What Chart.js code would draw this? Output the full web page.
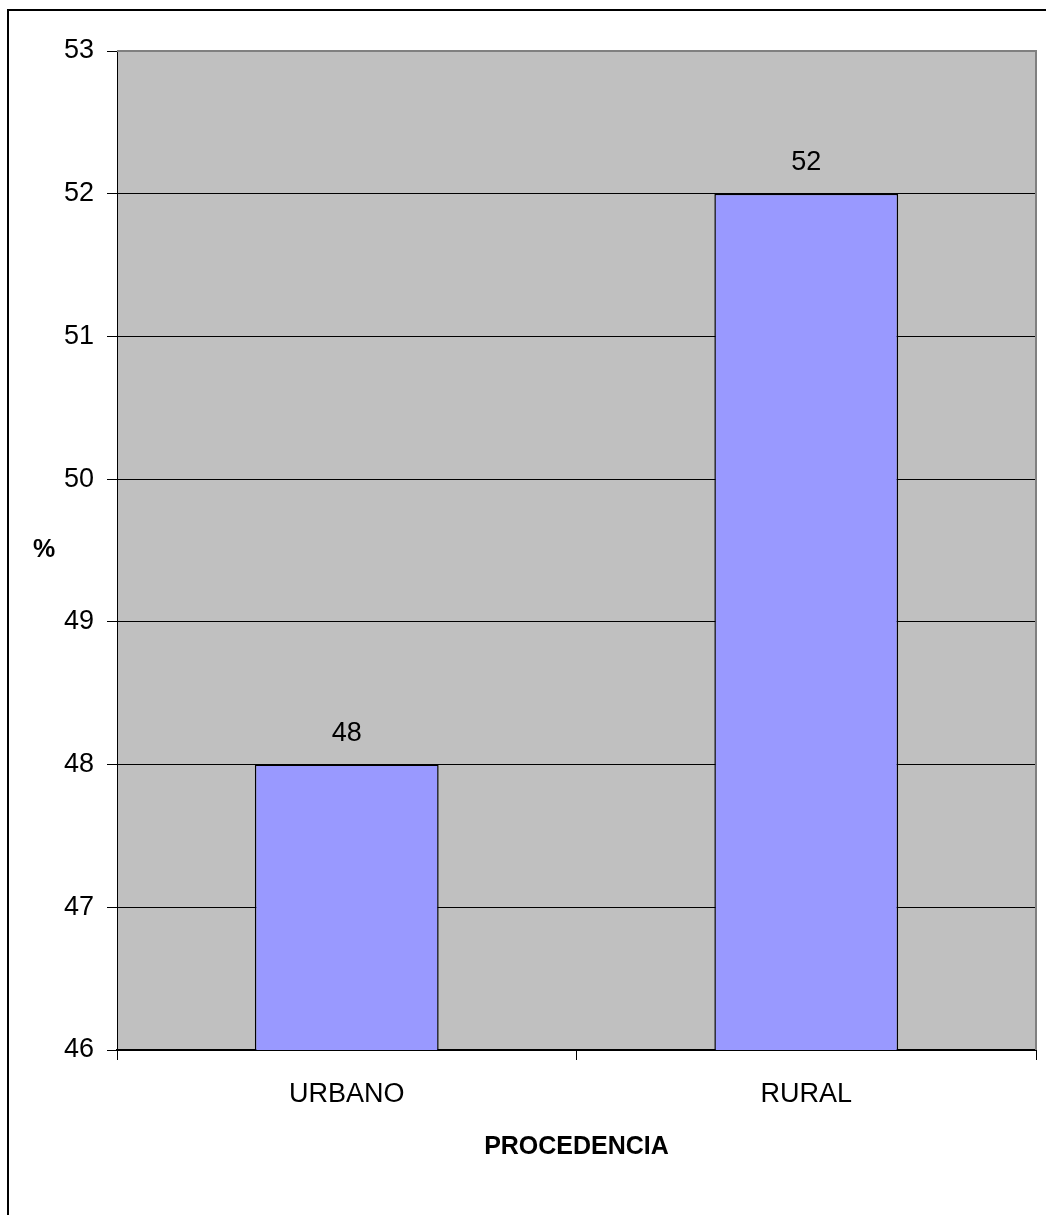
<!DOCTYPE html>
<html>
<head>
<meta charset="utf-8">
<script src="https://cdn.jsdelivr.net/npm/chart.js@4/dist/chart.umd.min.js"></script>
<style>
  html, body { margin: 0; padding: 0; background: #fff; overflow: hidden; }
  #wrap { position: absolute; left: 0; top: 0; width: 1046px; height: 1215px; }
  #frame { position: absolute; left: 7px; top: 9px; width: 1100px; height: 1300px;
           border-left: 2px solid #000; border-top: 2px solid #000; pointer-events: none; }
</style>
</head>
<body>
<div id="wrap"><canvas id="chart"></canvas></div>
<div id="frame"></div>
<script>
// datos
const categorias = ['URBANO', 'RURAL'];
const porcentajes = [48, 52];
const yMin = 46;
const yMax = 53;

const FONT = "'Liberation Sans', Arial, sans-serif";

// fondo gris del área de trazado y borde gris arriba/derecha
const plotArea = {
    id: 'plotArea',
    beforeDraw(chart) {
        const { ctx, chartArea: a } = chart;
        ctx.save();
        ctx.fillStyle = '#c0c0c0';
        ctx.fillRect(a.left, a.top, a.right - a.left, a.bottom - a.top);
        ctx.restore();
    },
    afterDraw(chart) {
        const { ctx, chartArea: a } = chart;
        ctx.save();
        ctx.strokeStyle = '#808080';
        ctx.lineWidth = 2;
        ctx.beginPath();
        ctx.moveTo(a.left, a.top);
        ctx.lineTo(a.right, a.top);
        ctx.lineTo(a.right, a.bottom);
        ctx.stroke();
        // título del eje Y, horizontal
        ctx.fillStyle = '#000';
        ctx.font = 'bold 25px ' + FONT;
        ctx.textAlign = 'center';
        ctx.textBaseline = 'middle';
        ctx.fillText('%', 44, (a.top + a.bottom) / 2);
        ctx.restore();
    }
};

// etiquetas de valor encima de cada barra
const valueLabels = {
    id: 'valueLabels',
    afterDatasetsDraw(chart) {
        const { ctx } = chart;
        const meta = chart.getDatasetMeta(0);
        ctx.save();
        ctx.fillStyle = '#000';
        ctx.font = '27px ' + FONT;
        ctx.textAlign = 'center';
        ctx.textBaseline = 'middle';
        meta.data.forEach((bar, i) => {
            ctx.fillText(String(porcentajes[i]), bar.x, bar.y - 31);
        });
        ctx.restore();
    }
};

new Chart(document.getElementById('chart'), {
    type: 'bar',
    data: {
        labels: categorias,
        datasets: [{
            data: porcentajes,
            backgroundColor: '#9999ff',
            borderColor: '#000000',
            borderWidth: 1.5,
            borderSkipped: false,
            categoryPercentage: 1.0,
            barPercentage: 0.4
        }]
    },
    options: {
        responsive: true,
        maintainAspectRatio: false,
        animation: false,
        layout: { padding: { top: 51, right: 10, left: 0, bottom: 0 } },
        plugins: {
            legend: { display: false },
            tooltip: { enabled: false }
        },
        scales: {
            y: {
                min: yMin,
                max: yMax,
                ticks: {
                    stepSize: 1,
                    color: '#000',
                    padding: 13,
                    font: { family: FONT, size: 27 }
                },
                grid: {
                    color: (c) => c.tick && c.tick.value === yMax ? '#808080' : '#000000',
                    tickColor: '#000000',
                    tickLength: 10,
                    lineWidth: 1
                },
                border: { color: '#000', width: 1 },
                afterFit(scale) { scale.width = 117; }
            },
            x: {
                ticks: {
                    color: '#000',
                    padding: 18,
                    font: { family: FONT, size: 27 }
                },
                grid: {
                    offset: true,
                    drawOnChartArea: false,
                    tickColor: '#000000',
                    tickLength: 10
                },
                border: { color: '#000', width: 2 },
                title: {
                    display: true,
                    text: 'PROCEDENCIA',
                    color: '#000',
                    font: { family: FONT, size: 25, weight: 'bold' },
                    padding: { top: 0, bottom: 53 }
                },
                afterFit(scale) { scale.height = 165; }
            }
        }
    },
    plugins: [plotArea, valueLabels]
});
</script>
</body>
</html>
